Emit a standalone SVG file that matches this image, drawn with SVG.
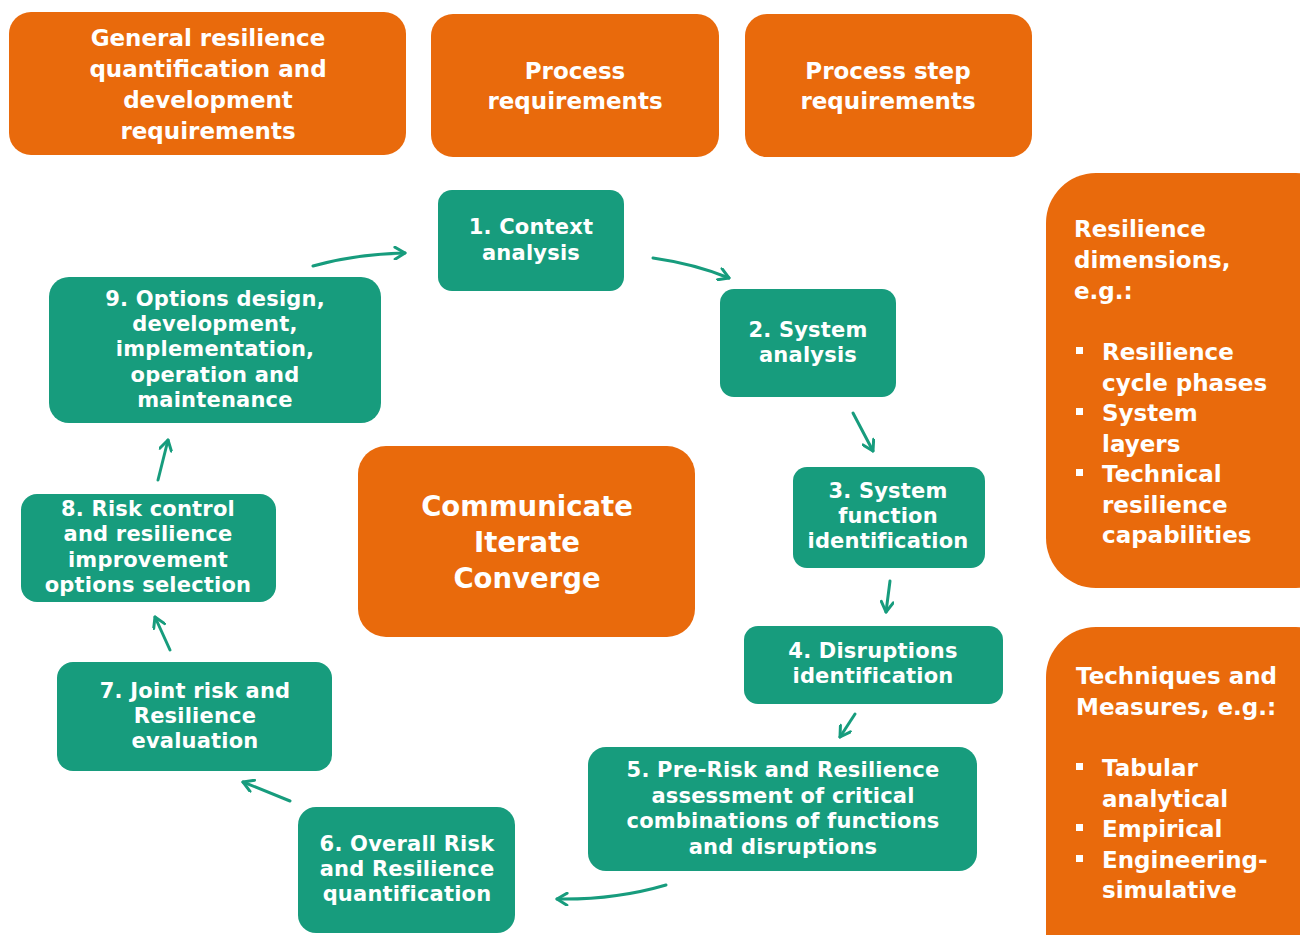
<svg xmlns="http://www.w3.org/2000/svg" width="1300" height="935" viewBox="0 0 1300 935">
  <style>
    .org { fill: #E96A0C; }
    .grn { fill: #179C7D; }
    text { font-family: "DejaVu Sans", "Open Sans", sans-serif; font-weight: 700; fill: #ffffff; }
    .hd { font-size: 23px; text-anchor: middle; }
    .st { font-size: 21px; text-anchor: middle; letter-spacing: 0.2px; }
    .big { font-size: 27.5px; text-anchor: middle; }
    .side { font-size: 23px; }
    .bullet { fill: #ffffff; }
    .conn path { fill: none; stroke: #179C7D; stroke-width: 3; stroke-linecap: round; stroke-linejoin: round; }
  </style>
  <defs>
    <marker id="arrow" viewBox="0 0 14 14" refX="12" refY="7" markerWidth="14" markerHeight="14" markerUnits="userSpaceOnUse" orient="auto">
      <path d="M2,1 L12,7 L2,13" fill="none" stroke="#179C7D" stroke-width="3" stroke-linecap="round" stroke-linejoin="round"/>
    </marker>
  </defs>
  <rect width="1300" height="935" fill="#ffffff"/>

  <!-- requirement headers -->
  <g id="general-req">
    <rect class="org" x="9" y="12" width="397" height="143" rx="22"/>
    <text class="hd" x="208" y="46"><tspan x="208">General resilience</tspan><tspan x="208" dy="31">quantification and</tspan><tspan x="208" dy="31">development</tspan><tspan x="208" dy="31">requirements</tspan></text>
  </g>
  <g id="process-req">
    <rect class="org" x="431" y="14" width="288" height="143" rx="22"/>
    <text class="hd" x="575" y="79"><tspan x="575">Process</tspan><tspan x="575" dy="30">requirements</tspan></text>
  </g>
  <g id="step-req">
    <rect class="org" x="745" y="14" width="287" height="143" rx="22"/>
    <text class="hd" x="888" y="79"><tspan x="888">Process step</tspan><tspan x="888" dy="30">requirements</tspan></text>
  </g>

  <!-- side panels -->
  <g id="dimensions">
    <rect class="org" x="1046" y="173" width="300" height="415" rx="50"/>
    <text class="side" x="1074" y="237"><tspan x="1074">Resilience</tspan><tspan x="1074" dy="31">dimensions,</tspan><tspan x="1074" dy="31">e.g.:</tspan></text>
    <rect class="bullet" x="1076" y="347" width="7" height="7"/>
    <rect class="bullet" x="1076" y="408" width="7" height="7"/>
    <rect class="bullet" x="1076" y="469" width="7" height="7"/>
    <text class="side" x="1102" y="360"><tspan x="1102">Resilience</tspan><tspan x="1102" dy="30.5">cycle phases</tspan><tspan x="1102" dy="30.5">System</tspan><tspan x="1102" dy="30.5">layers</tspan><tspan x="1102" dy="30.5">Technical</tspan><tspan x="1102" dy="30.5">resilience</tspan><tspan x="1102" dy="30.5">capabilities</tspan></text>
  </g>
  <g id="techniques">
    <rect class="org" x="1046" y="627" width="300" height="360" rx="50"/>
    <text class="side" x="1076" y="684"><tspan x="1076">Techniques and</tspan><tspan x="1076" dy="31">Measures, e.g.:</tspan></text>
    <rect class="bullet" x="1076" y="763" width="7" height="7"/>
    <rect class="bullet" x="1076" y="824" width="7" height="7"/>
    <rect class="bullet" x="1076" y="855" width="7" height="7"/>
    <text class="side" x="1102" y="776"><tspan x="1102">Tabular</tspan><tspan x="1102" dy="30.5">analytical</tspan><tspan x="1102" dy="30.5">Empirical</tspan><tspan x="1102" dy="30.5">Engineering-</tspan><tspan x="1102" dy="30.5">simulative</tspan></text>
  </g>

  <!-- centre -->
  <g id="centre">
    <rect class="org" x="358" y="446" width="337" height="191" rx="28"/>
    <text class="big" x="527" y="516"><tspan x="527">Communicate</tspan><tspan x="527" dy="36">Iterate</tspan><tspan x="527" dy="36">Converge</tspan></text>
  </g>

  <!-- process steps -->
  <g id="step1">
    <rect class="grn" x="438" y="190" width="186" height="101" rx="14"/>
    <text class="st" x="531" y="234"><tspan x="531">1. Context</tspan><tspan x="531" dy="26">analysis</tspan></text>
  </g>
  <g id="step2">
    <rect class="grn" x="720" y="289" width="176" height="108" rx="14"/>
    <text class="st" x="808" y="337"><tspan x="808">2. System</tspan><tspan x="808" dy="25">analysis</tspan></text>
  </g>
  <g id="step3">
    <rect class="grn" x="793" y="467" width="192" height="101" rx="14"/>
    <text class="st" x="888" y="498"><tspan x="888">3. System</tspan><tspan x="888" dy="25">function</tspan><tspan x="888" dy="25">identification</tspan></text>
  </g>
  <g id="step4">
    <rect class="grn" x="744" y="626" width="259" height="78" rx="14"/>
    <text class="st" x="873" y="658"><tspan x="873">4. Disruptions</tspan><tspan x="873" dy="25">identification</tspan></text>
  </g>
  <g id="step5">
    <rect class="grn" x="588" y="747" width="389" height="124" rx="18"/>
    <text class="st" x="783" y="777"><tspan x="783">5. Pre-Risk and Resilience</tspan><tspan x="783" dy="25.7">assessment of critical</tspan><tspan x="783" dy="25.7">combinations of functions</tspan><tspan x="783" dy="25.7">and disruptions</tspan></text>
  </g>
  <g id="step6">
    <rect class="grn" x="298" y="807" width="217" height="126" rx="18"/>
    <text class="st" x="407" y="851"><tspan x="407">6. Overall Risk</tspan><tspan x="407" dy="25">and Resilience</tspan><tspan x="407" dy="25">quantification</tspan></text>
  </g>
  <g id="step7">
    <rect class="grn" x="57" y="662" width="275" height="109" rx="16"/>
    <text class="st" x="195" y="698"><tspan x="195">7. Joint risk and</tspan><tspan x="195" dy="25">Resilience</tspan><tspan x="195" dy="25">evaluation</tspan></text>
  </g>
  <g id="step8">
    <rect class="grn" x="21" y="494" width="255" height="108" rx="16"/>
    <text class="st" x="148" y="516"><tspan x="148">8.  Risk control</tspan><tspan x="148" dy="25.3">and resilience</tspan><tspan x="148" dy="25.3">improvement</tspan><tspan x="148" dy="25.3">options selection</tspan></text>
  </g>
  <g id="step9">
    <rect class="grn" x="49" y="277" width="332" height="146" rx="20"/>
    <text class="st" x="215" y="306"><tspan x="215">9. Options design,</tspan><tspan x="215" dy="25.2">development,</tspan><tspan x="215" dy="25.2">implementation,</tspan><tspan x="215" dy="25.2">operation and</tspan><tspan x="215" dy="25.2">maintenance</tspan></text>
  </g>

  <!-- cycle connectors -->
  <g class="conn">
    <path d="M313,266 Q355,254 405,253" marker-end="url(#arrow)"/>
    <path d="M653,258 Q695,264 729,278" marker-end="url(#arrow)"/>
    <path d="M853,413 L873,451" marker-end="url(#arrow)"/>
    <path d="M890,581 L886,612" marker-end="url(#arrow)"/>
    <path d="M855,714 L840,737" marker-end="url(#arrow)"/>
    <path d="M666,885 Q615,900 557,899" marker-end="url(#arrow)"/>
    <path d="M290,801 L243,782" marker-end="url(#arrow)"/>
    <path d="M170,650 L155,617" marker-end="url(#arrow)"/>
    <path d="M158,480 L168,440" marker-end="url(#arrow)"/>
  </g>
</svg>
